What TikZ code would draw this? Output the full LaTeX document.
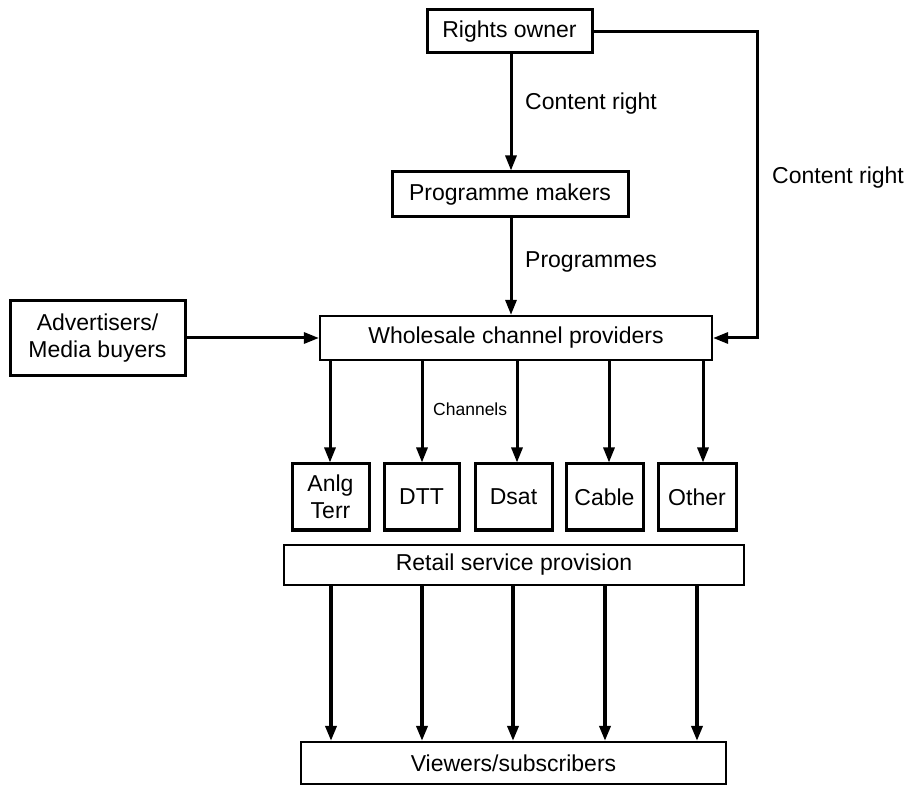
\documentclass[tikz,border=0pt]{standalone}
\usepackage{fontspec}
\setmainfont{Liberation Sans}
\usetikzlibrary{arrows.meta}
\begin{document}
\begin{tikzpicture}[x=1pt,y=-1pt,
  boxthick/.style={draw,line width=3pt,inner sep=0pt,font=\fontsize{23}{27}\selectfont,align=center},
  boxthin/.style={draw,line width=2.2pt,inner sep=0pt,font=\fontsize{23}{27}\selectfont,align=center},
  lbl/.style={anchor=west,inner sep=0pt,font=\fontsize{23}{27}\selectfont},
  arr/.style={line width=3pt,-{Triangle[width=11pt,length=15pt]}},
  arrb/.style={line width=3.5pt,-{Triangle[width=11pt,length=15pt]}}]
\useasboundingbox (0,0) rectangle (906,786);
\node[boxthick,minimum width=165,minimum height=43] (ro) at (509.5,31.5) {Rights owner};
\node[boxthick,minimum width=236,minimum height=45] (pm) at (510,194.5) {Programme makers};
\node[boxthin,minimum width=392,minimum height=44] (wh) at (516,338) {Wholesale channel providers};
\node[boxthick,minimum width=175,minimum height=75] (ad) at (97.5,338.5) {Advertisers/\\Media buyers};
\node[boxthick,minimum width=77,minimum height=66] (an) at (330.5,497) {Anlg\\Terr};
\node[boxthick,minimum width=75,minimum height=66] (dt) at (421.5,497) {DTT};
\node[boxthick,minimum width=77,minimum height=66] (ds) at (513.5,497) {Dsat};
\node[boxthick,minimum width=77,minimum height=66] (ca) at (604.5,497) {Cable};
\node[boxthick,minimum width=78,minimum height=66] (ot) at (697,497) {Other};
\node[boxthin,minimum width=460,minimum height=40] (rt) at (514,565) {Retail service provision};
\node[boxthin,minimum width=425,minimum height=42] (vw) at (513.5,763) {Viewers/subscribers};
\node[lbl] (l1) at (525,104) {Content right};
\node[lbl] (l2) at (772,178) {Content right};
\node[lbl] (l3) at (525,262) {Programmes};
\node[lbl,font=\fontsize{17.5}{21}\selectfont] (l4) at (433,409) {Channels};
\coordinate (xa) at (511,0);
\coordinate (rr) at (757,0);
\coordinate (c1) at (330,0);
\coordinate (c2) at (422,0);
\coordinate (c3) at (517,0);
\coordinate (c4) at (609,0);
\coordinate (c5) at (703,0);
\coordinate (d1) at (331,0);
\coordinate (d2) at (422,0);
\coordinate (d3) at (513,0);
\coordinate (d4) at (605,0);
\coordinate (d5) at (697,0);
\draw[arr] (ro.south -| xa) -- (pm.north -| xa);
\draw[arr] (pm.south -| xa) -- (wh.north -| xa);
\draw[arr] (ro.east) -- (ro.east -| rr) -- (wh.east -| rr) -- (wh.east);
\draw[arr] (ad.east |- wh.west) -- (wh.west);
\draw[arr] (wh.south -| c1) -- (an.north -| c1);
\draw[arr] (wh.south -| c2) -- (dt.north -| c2);
\draw[arr] (wh.south -| c3) -- (ds.north -| c3);
\draw[arr] (wh.south -| c4) -- (ca.north -| c4);
\draw[arr] (wh.south -| c5) -- (ot.north -| c5);
\draw[arrb] (rt.south -| d1) -- (vw.north -| d1);
\draw[arrb] (rt.south -| d2) -- (vw.north -| d2);
\draw[arrb] (rt.south -| d3) -- (vw.north -| d3);
\draw[arrb] (rt.south -| d4) -- (vw.north -| d4);
\draw[arrb] (rt.south -| d5) -- (vw.north -| d5);
\end{tikzpicture}
\end{document}
